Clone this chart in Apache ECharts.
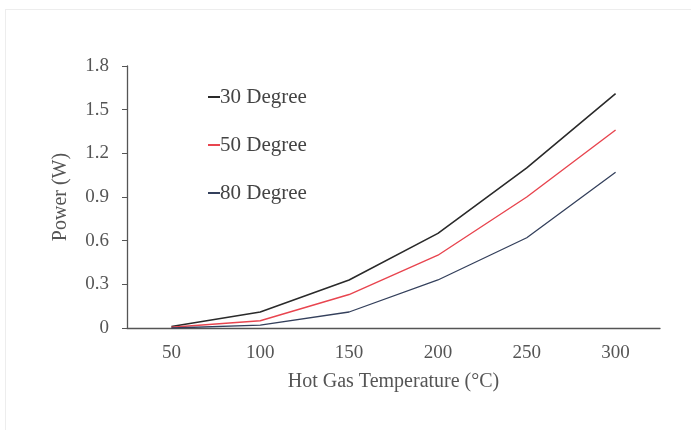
<!DOCTYPE html>
<html>
<head>
<meta charset="utf-8">
<script src="https://cdn.jsdelivr.net/npm/echarts@6/dist/echarts.min.js"></script>
<style>
html,body{margin:0;padding:0;background:#fff;}
#frame{position:absolute;left:5px;top:9px;width:686px;height:421px;border-left:1px solid #ededed;border-top:1px solid #ededed;box-sizing:border-box;}
#chart{position:absolute;left:0;top:0;width:691px;height:430px;}
</style>
</head>
<body>
<div id="frame"></div>
<div id="chart"></div>
<script>
const categories = ['50', '100', '150', '200', '250', '300'];
const deg30 = [0.01, 0.11, 0.33, 0.65, 1.10, 1.61];
const deg50 = [0.005, 0.05, 0.23, 0.50, 0.90, 1.36];
const deg80 = [0.0, 0.02, 0.11, 0.33, 0.62, 1.07];
const yTicks = [0, 0.3, 0.6, 0.9, 1.2, 1.5, 1.8];

const font = '"Liberation Serif", "DejaVu Serif", serif';
const chart = echarts.init(document.getElementById('chart'));
chart.setOption({
  animation: false,
  textStyle: { fontFamily: font },
  grid: { left: 127, right: 31, top: 66, bottom: 102 },
  legend: {
    orient: 'vertical', left: 203, top: 81, itemWidth: 12, itemHeight: 2, itemGap: 26,
    icon: 'rect',
    textStyle: { fontFamily: font, fontSize: 21, lineHeight: 22, color: '#444', padding: [0, 0, 0, -5] },
    data: ['30 Degree', '50 Degree', '80 Degree']
  },
  xAxis: {
    type: 'category', data: categories, boundaryGap: true,
    name: 'Hot Gas Temperature (°C)', nameLocation: 'middle', nameGap: 44,
    nameTextStyle: { fontFamily: font, fontSize: 20, color: '#555' },
    axisLine: { lineStyle: { color: '#555', width: 1.3 } },
    axisTick: { show: false },
    axisLabel: { fontFamily: font, fontSize: 19, color: '#555', margin: 16 }
  },
  yAxis: {
    type: 'value', min: 0, max: 1.8, interval: 0.3,
    name: 'Power (W)', nameLocation: 'middle', nameGap: 56,
    nameTextStyle: { fontFamily: font, fontSize: 20, color: '#555' },
    axisLine: { show: true, lineStyle: { color: '#555', width: 1.3 } },
    axisTick: { show: true, length: 5, lineStyle: { color: '#555' } },
    splitLine: { show: false },
    axisLabel: { fontFamily: font, fontSize: 19, color: '#555', margin: 18,
      formatter: v => yTicks.includes(+v.toFixed(1)) ? String(+v.toFixed(1)) : '' }
  },
  series: [
    { name: '30 Degree', type: 'line', data: deg30, symbol: 'none', lineStyle: { color: '#2a2a2a', width: 1.6 }, itemStyle: { color: '#2a2a2a' } },
    { name: '50 Degree', type: 'line', data: deg50, symbol: 'none', lineStyle: { color: '#e8454f', width: 1.4 }, itemStyle: { color: '#e8454f' } },
    { name: '80 Degree', type: 'line', data: deg80, symbol: 'none', lineStyle: { color: '#34405c', width: 1.3 }, itemStyle: { color: '#34405c' } }
  ]
});
</script>
</body>
</html>
